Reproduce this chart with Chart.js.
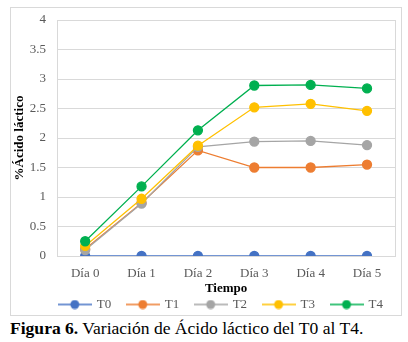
<!DOCTYPE html>
<html>
<head>
<meta charset="utf-8">
<script src="https://cdn.jsdelivr.net/npm/chart.js@4.4.1/dist/chart.umd.min.js"></script>
<style>
    body { margin: 0; background: #fff; width: 408px; height: 342px; position: relative; overflow: hidden; }
    .box { position: absolute; left: 10px; top: 7px; width: 392px; height: 309px; border: 1px solid #d9d9d9; box-sizing: border-box; }
    .caption { position: absolute; left: 10px; top: 319px; font-family: "Liberation Serif", serif; font-size: 17px; color: #000; white-space: nowrap; transform-origin: 0 0; }
</style>
</head>
<body>
<div class="box"><canvas id="chart"></canvas></div>
<div class="caption" id="caption"><b>Figura 6.</b> Variación de Ácido láctico del T0 al T4.</div>
<script>
(function () {
    "use strict";

    const labels = ["Día 0", "Día 1", "Día 2", "Día 3", "Día 4", "Día 5"];
    const t0 = [0, 0, 0, 0, 0, 0];
    const t1 = [0.12, 0.9, 1.79, 1.5, 1.5, 1.55];
    const t2 = [0.1, 0.89, 1.85, 1.94, 1.95, 1.88];
    const t3 = [0.17, 0.97, 1.87, 2.52, 2.58, 2.46];
    const t4 = [0.25, 1.18, 2.13, 2.89, 2.9, 2.84];
    const yTicks = [0, 0.5, 1, 1.5, 2, 2.5, 3, 3.5, 4];

    const serif = "Liberation Serif";

    // stretch caption to the width of the figure
    const cap = document.getElementById("caption");
    cap.style.transform = "scaleX(" + (353 / cap.offsetWidth) + ")";

    // legend marker: short line with a dot in the middle
    function lineMarker(color) {
        const c = document.createElement("canvas");
        c.width = 34;
        c.height = 10;
        const ctx = c.getContext("2d");
        ctx.strokeStyle = color;
        ctx.lineWidth = 1.5;
        ctx.beginPath();
        ctx.moveTo(0, 5);
        ctx.lineTo(34, 5);
        ctx.stroke();
        ctx.fillStyle = color;
        ctx.beginPath();
        ctx.arc(17, 5, 4.5, 0, Math.PI * 2);
        ctx.fill();
        return c;
    }

    const series = [
        { label: "T0", data: t0, color: "#4472c4" },
        { label: "T1", data: t1, color: "#ed7d31" },
        { label: "T2", data: t2, color: "#a5a5a5" },
        { label: "T3", data: t3, color: "#ffc000" },
        { label: "T4", data: t4, color: "#00b050" },
    ];

    const plotFrame = {
        id: "plotFrame",
        beforeDatasetsDraw(chart) {
            const a = chart.chartArea;
            const ctx = chart.ctx;
            ctx.save();
            ctx.strokeStyle = "#d9d9d9";
            ctx.lineWidth = 1;
            ctx.strokeRect(Math.round(a.left) + 0.5, Math.round(a.top) + 0.5, Math.round(a.right - a.left), Math.round(a.bottom - a.top));
            ctx.restore();
        },
    };

    function draw() {
        new Chart(document.getElementById("chart"), {
            type: "line",
            data: {
                labels: labels,
                datasets: series.map((s, i) => ({
                    label: s.label,
                    data: s.data,
                    borderColor: s.color,
                    backgroundColor: s.color,
                    pointBackgroundColor: s.color,
                    pointBorderColor: s.color,
                    pointRadius: 4.5,
                    pointHoverRadius: 4.5,
                    borderWidth: 1.3,
                    tension: 0,
                    order: series.length - i,
                })),
            },
            options: {
                responsive: true,
                maintainAspectRatio: false,
                animation: false,
                layout: {
                    padding: { left: 0, right: 2, top: 12, bottom: 0 },
                },
                plugins: {
                    tooltip: { enabled: false },
                    legend: {
                        position: "bottom",
                        align: "end",
                        maxHeight: 33,
                        labels: {
                            usePointStyle: true,
                            pointStyleWidth: 31,
                            boxHeight: 10,
                            padding: 16,
                            color: "#595959",
                            font: { family: serif, size: 13 },
                            sort: (a, b) => a.datasetIndex - b.datasetIndex,
                            generateLabels(chart) {
                                const items = Chart.defaults.plugins.legend.labels.generateLabels(chart);
                                items.forEach((it) => {
                                    it.pointStyle = lineMarker(series[it.datasetIndex].color);
                                });
                                return items;
                            },
                        },
                    },
                },
                scales: {
                    x: {
                        offset: true,
                        grid: { display: false, drawTicks: false },
                        border: { display: true, color: "#d9d9d9" },
                        ticks: { color: "#595959", font: { family: serif, size: 13 }, padding: 10 },
                        title: {
                            display: true,
                            text: "Tiempo",
                            color: "#000",
                            font: { family: serif, size: 13, weight: "bold" },
                            padding: { top: 0, bottom: -14.5 },
                        },
                        afterFit(axis) {
                            axis.height = 26;
                            axis.paddingLeft = 0;
                            axis.paddingRight = 0;
                        },
                    },
                    y: {
                        min: 0,
                        max: 4,
                        afterBuildTicks(axis) {
                            axis.ticks = yTicks.map((v) => ({ value: v }));
                        },
                        grid: { color: "#d9d9d9", drawTicks: false },
                        border: { display: true, color: "#d9d9d9" },
                        ticks: {
                            color: "#595959",
                            font: { family: serif, size: 13 },
                            padding: 11,
                            callback: (v) => String(v),
                        },
                        title: {
                            display: true,
                            text: "%Ácido láctico",
                            color: "#000",
                            font: { family: serif, size: 13, weight: "bold" },
                            padding: { top: 1, bottom: 0 },
                        },
                        afterFit(axis) {
                            axis.width = 46;
                            axis.paddingTop = 0;
                            axis.paddingBottom = 0;
                        },
                    },
                },
            },
            plugins: [plotFrame],
        });
    }

    Promise.all([
        document.fonts.load("13px 'Liberation Serif'"),
        document.fonts.load("bold 13px 'Liberation Serif'"),
    ]).then(draw, draw);
})();
</script>
</body>
</html>
